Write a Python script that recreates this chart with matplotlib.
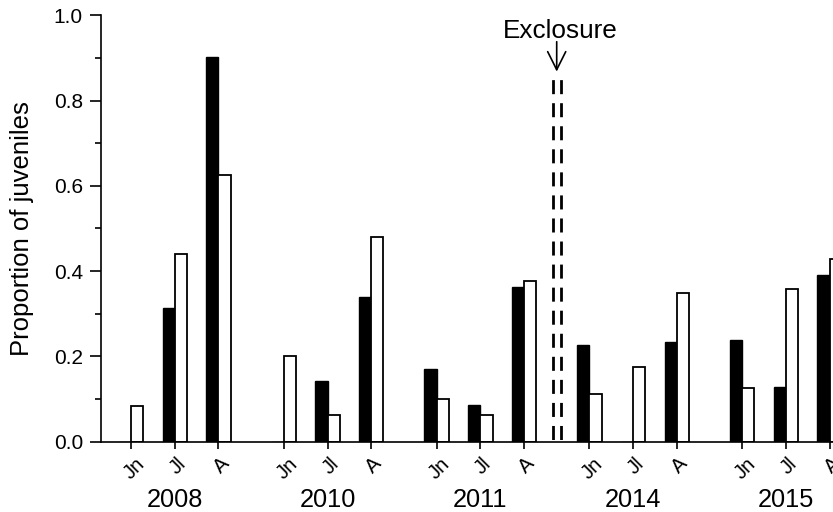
import numpy as np
import matplotlib
matplotlib.use("Agg")
import matplotlib.pyplot as plt
from matplotlib.transforms import blended_transform_factory, ScaledTranslation

plt.rcParams['font.family'] = ['Liberation Sans', 'DejaVu Sans']
plt.rcParams['lines.scale_dashes'] = False

years = ["2008", "2010", "2011", "2014", "2015"]
months = ["Jn", "Jl", "A"]
# proportion of juveniles per month, black series and white series
black_vals = [0.0, 0.314, 0.903,
              0.0, 0.142, 0.340,
              0.171, 0.087, 0.363,
              0.227, 0.0, 0.233,
              0.239, 0.128, 0.392]
white_vals = [0.084, 0.440, 0.625,
              0.200, 0.063, 0.480,
              0.100, 0.063, 0.377,
              0.113, 0.175, 0.349,
              0.126, 0.358, 0.428]
exclosure_label = "Exclosure"

# month positions: three per year, a 1.5-unit step between years
pos = []
for g in range(len(years)):
    for m in range(len(months)):
        pos.append(g * 3.5 + m)
pos = np.array(pos, dtype=float)
year_centres = [g * 3.5 + 1 for g in range(len(years))]
exclosure_x = 2 * 3.5 + 2 + 0.75

fig = plt.figure(figsize=(8.33, 5.12), dpi=100)
ax = fig.add_axes([101 / 833, 70.3 / 512, (833 - 101) / 833, 426.4 / 512])

w = 0.28
ax.bar(pos, black_vals, width=-w, align='edge', color='black',
       edgecolor='black', linewidth=1.0, zorder=2)
ax.bar(pos, white_vals, width=w, align='edge', color='white',
       edgecolor='black', linewidth=1.3, zorder=2)

ax.set_xlim(-0.69, 16.08)
ax.set_ylim(0, 1.0)

ax.set_yticks(np.arange(0, 1.01, 0.2))
ax.set_yticks(np.arange(0.1, 1.0, 0.2), minor=True)
ax.set_yticklabels([f"{v:.1f}" for v in np.arange(0, 1.01, 0.2)], fontsize=15)
ax.tick_params(axis='y', which='major', length=8, width=1.2, pad=5, direction='out')
ax.tick_params(axis='y', which='minor', length=4.5, width=1.2, direction='out')

ax.set_xticks(pos)
ax.set_xticklabels(months * len(years), rotation=45, ha='center', va='top', fontsize=14.5)
ax.tick_params(axis='x', which='major', length=5, width=1.2, pad=4, direction='out')
shift = ScaledTranslation(3 / 100, 0, fig.dpi_scale_trans)
for lbl in ax.get_xticklabels():
    lbl.set_transform(lbl.get_transform() + shift)

for s in ['top', 'right']:
    ax.spines[s].set_visible(False)
for s in ['left', 'bottom']:
    ax.spines[s].set_linewidth(1.2)

ax.set_ylabel("Proportion of juveniles", fontsize=18.5, labelpad=14)

trans = blended_transform_factory(ax.transData, ax.transAxes)
for x, yr in zip(year_centres, years):
    ax.text(x, -0.137, yr, transform=trans, ha='center', va='center', fontsize=18.3)

# double dashed separator marking the exclosure
for dx in (-0.095, 0.095):
    ax.plot([exclosure_x + dx, exclosure_x + dx], [0, 0.85], color='black',
            linewidth=2.0, linestyle=(14.8, (10.1, 6.5)), zorder=3, clip_on=False)

ax.annotate('', xy=(exclosure_x, 0.868), xytext=(exclosure_x, 0.938),
            arrowprops=dict(arrowstyle='->,head_length=1.3,head_width=0.65',
                            color='black', lw=1.2, mutation_scale=10,
                            shrinkA=0, shrinkB=0))
ax.text(exclosure_x + 0.08, 0.964, exclosure_label, ha='center', va='center',
        fontsize=18.8)

fig.savefig("out.png", dpi=100)
